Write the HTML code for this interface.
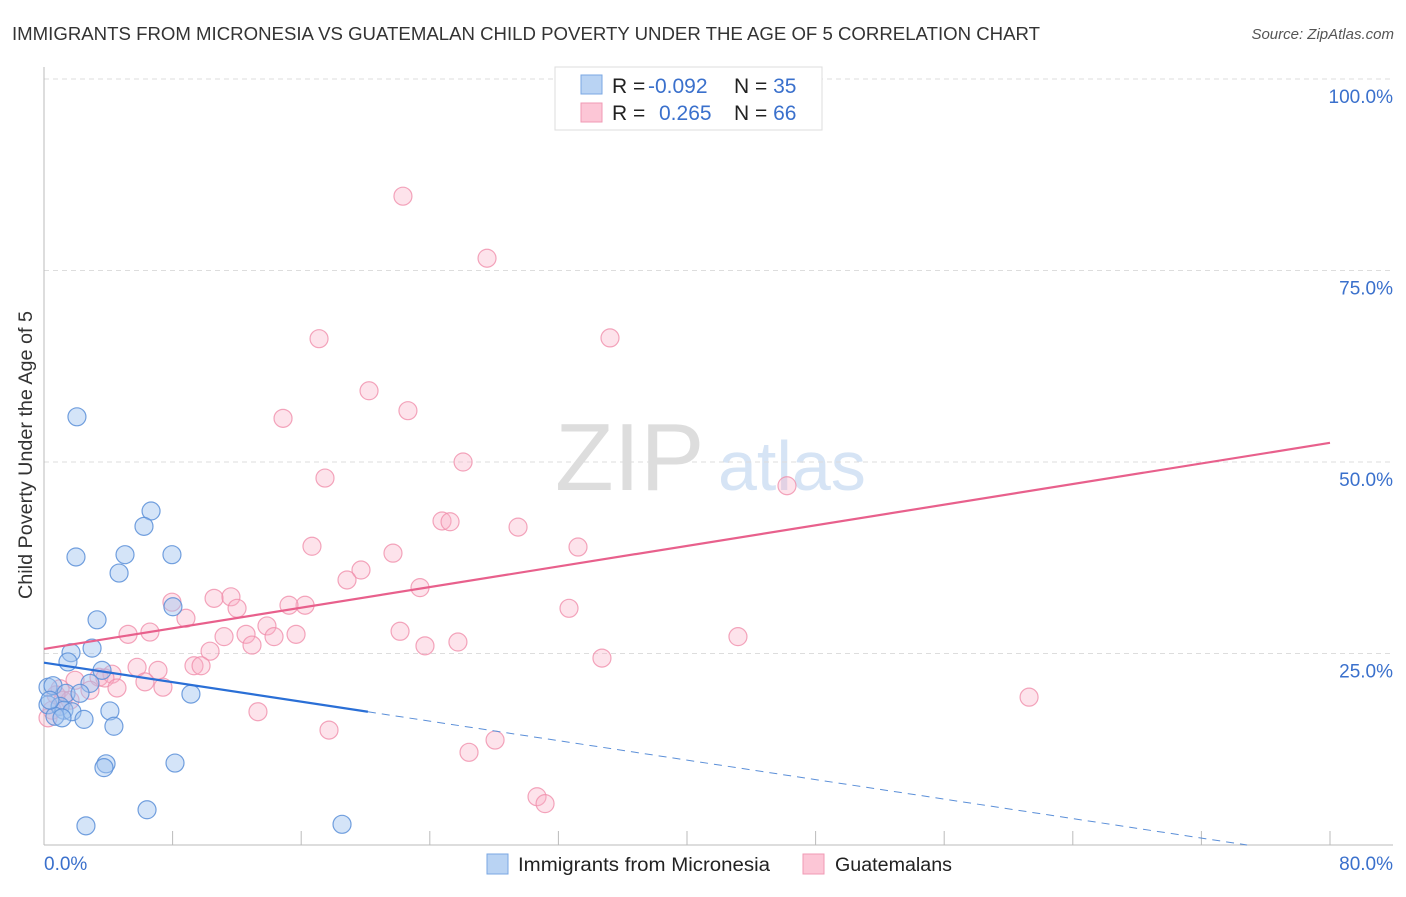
<!DOCTYPE html>
<html><head><meta charset="utf-8">
<style>
body{margin:0;background:#fff;font-family:"Liberation Sans",sans-serif;}
svg text{font-family:"Liberation Sans",sans-serif;}
</style></head>
<body>
<svg id="chart" width="1406" height="892" viewBox="0 0 1406 892">
<text x="12" y="40" font-size="18" fill="#333" textLength="1028" lengthAdjust="spacingAndGlyphs">IMMIGRANTS FROM MICRONESIA VS GUATEMALAN CHILD POVERTY UNDER THE AGE OF 5 CORRELATION CHART</text>
<text x="1394" y="39" font-size="15" fill="#555" font-style="italic" text-anchor="end">Source: ZipAtlas.com</text>
<g>
<text x="555" y="490" font-size="96" fill="#ddd" font-family="Liberation Serif,serif">ZIP</text>
<text x="718" y="490" font-size="70" fill="#d6e4f5">atlas</text>
</g>
<g id="grid"></g>
<g id="axes"></g>
<g id="pts"></g>
<g id="trend"></g>
<text x="32" y="455" font-size="19" fill="#333" text-anchor="middle" textLength="288" lengthAdjust="spacingAndGlyphs" transform="rotate(-90 32 455)">Child Poverty Under the Age of 5</text>
<g>
<rect x="555" y="67" width="267" height="63" fill="#fff" stroke="#ddd"/>
<rect x="581" y="75" width="21" height="19" fill="#b9d3f3" stroke="#7aa7e3"/>
<rect x="581" y="103" width="21" height="19" fill="#fcc6d6" stroke="#f09ab4"/>
<text x="612" y="93" font-size="21" fill="#222">R = <tspan fill="#3a70cc" x="648">-0.092</tspan></text>
<text x="734" y="93" font-size="21" fill="#222">N = <tspan fill="#3a70cc">35</tspan></text>
<text x="612" y="120" font-size="21" fill="#222">R = <tspan fill="#3a70cc" x="659">0.265</tspan></text>
<text x="734" y="120" font-size="21" fill="#222">N = <tspan fill="#3a70cc">66</tspan></text>
</g>
<g>
<rect x="487" y="854" width="21" height="20" fill="#b9d3f3" stroke="#7aa7e3"/>
<text x="518" y="871" font-size="19" fill="#222" textLength="252" lengthAdjust="spacingAndGlyphs">Immigrants from Micronesia</text>
<rect x="803" y="854" width="21" height="20" fill="#fcc6d6" stroke="#f09ab4"/>
<text x="835" y="871" font-size="19" fill="#222" textLength="117" lengthAdjust="spacingAndGlyphs">Guatemalans</text>
</g>
</svg>
<script>
const xTicks=[0,10,20,30,40,50,60,70,80];
const yTicks=[25,50,75,100];
const yTickLabels=["25.0%","50.0%","75.0%","100.0%"];
const blueX=[2.05,6.66,6.22,1.99,5.04,7.96,4.67,8.02,3.30,2.99,1.68,1.49,3.61,2.86,0.25,0.56,1.37,2.24,9.14,0.25,1.0,1.24,1.74,4.1,0.68,1.12,2.49,4.35,3.86,3.73,8.15,6.41,2.61,18.54,0.37];
const blueY=[55.9,43.6,41.6,37.6,37.9,37.9,35.5,31.1,29.4,25.7,25.1,23.9,22.8,21.1,20.6,20.8,19.8,19.8,19.7,18.3,18.1,17.6,17.4,17.5,16.8,16.6,16.4,15.5,10.6,10.1,10.7,4.6,2.5,2.7,18.9];
const pinkX=[22.33,27.56,17.11,35.21,20.22,22.64,14.87,26.07,17.48,46.22,24.76,25.26,29.49,16.67,33.22,21.71,19.72,18.85,23.39,7.96,10.58,11.63,12.01,8.83,16.24,15.24,32.66,6.59,5.23,13.87,22.15,11.20,15.68,12.57,14.31,25.75,12.94,23.70,43.17,10.33,34.71,5.79,9.33,9.77,7.09,3.42,4.23,3.79,6.28,4.54,7.40,1.93,1.0,1.18,0.5,0.25,13.31,17.73,26.44,28.06,61.28,30.67,31.17,1.62,2.86,0.75];
const pinkY=[84.7,76.6,66.1,66.2,59.3,56.7,55.7,50.0,47.9,46.9,42.3,42.2,41.5,39.0,38.9,38.1,35.9,34.6,33.6,31.7,32.2,32.4,30.9,29.6,31.3,31.3,30.9,27.8,27.5,28.6,27.9,27.2,27.5,27.5,27.2,26.5,26.1,26.0,27.2,25.3,24.4,23.2,23.4,23.4,22.8,21.9,22.3,21.8,21.3,20.5,20.6,21.5,20.4,18.9,17.6,16.6,17.4,15.0,12.1,13.7,19.3,6.3,5.4,18.9,20.2,19.6];
const pinkTrend=[25.6,52.5];
const blueTrend=[23.8,-0.318];
const blueSolidEnd=20.15;

const X=v=>44+v*16.075, Y=v=>845-v*7.66;
const NS="http://www.w3.org/2000/svg";
function mk(tag,attrs,parent){const e=document.createElementNS(NS,tag);for(const k in attrs)e.setAttribute(k,attrs[k]);parent.appendChild(e);return e;}
const grid=document.getElementById('grid'),axes=document.getElementById('axes'),pts=document.getElementById('pts'),trend=document.getElementById('trend');
yTicks.forEach((t,i)=>{
 const l=mk('line',{x1:44,x2:1393,y1:Y(t),y2:Y(t),stroke:'#ddd','stroke-dasharray':'5,4'},grid);
 
 
 const tx=mk('text',{x:1393,y:Y(t)+24,'font-size':19,fill:'#3a70cc','text-anchor':'end'},axes);
 tx.textContent=yTickLabels[i];
 
 
});
const yl=mk('line',{x1:44,x2:44,y1:67,y2:845,stroke:'#bbb'},axes);


const xl=mk('line',{x1:44,x2:1393,y1:845,y2:845,stroke:'#bbb'},axes);


for(let v=0;v<=80;v+=8){
 const t=mk('line',{x1:X(v),x2:X(v),y1:831,y2:845,stroke:'#bbb'},axes);
 
 
}
const x0=mk('text',{x:44,y:870,'font-size':19,fill:'#3a70cc'},axes);x0.textContent=xTicks[0].toFixed(1)+'%';


const x1=mk('text',{x:1393,y:870,'font-size':19,fill:'#3a70cc','text-anchor':'end'},axes);x1.textContent=xTicks[xTicks.length-1].toFixed(1)+'%';


pinkX.forEach((v,i)=>{
 const c=mk('circle',{cx:X(v),cy:Y(pinkY[i]),r:9,fill:'rgba(248,175,198,0.35)',stroke:'rgba(240,142,171,0.8)','stroke-width':1.2},pts);
 
 
});
blueX.forEach((v,i)=>{
 const c=mk('circle',{cx:X(v),cy:Y(blueY[i]),r:9,fill:'rgba(160,196,240,0.45)',stroke:'rgba(91,143,216,0.85)','stroke-width':1.2},pts);
 
 
});
const pl=mk('line',{x1:X(0),y1:Y(pinkTrend[0]),x2:X(80),y2:Y(pinkTrend[1]),stroke:'#e8608c','stroke-width':2.2},trend);


const bz=-blueTrend[0]/blueTrend[1];
const bs=mk('line',{x1:X(0),y1:Y(blueTrend[0]),x2:X(blueSolidEnd),y2:Y(blueTrend[0]+blueTrend[1]*blueSolidEnd),stroke:'#2a6fd6','stroke-width':2.2},trend);


const bd=mk('line',{x1:X(blueSolidEnd),y1:Y(blueTrend[0]+blueTrend[1]*blueSolidEnd),x2:X(bz),y2:Y(0),stroke:'#5b8fd8','stroke-width':1,'stroke-dasharray':'8,6'},trend);


</script>
</body></html>
